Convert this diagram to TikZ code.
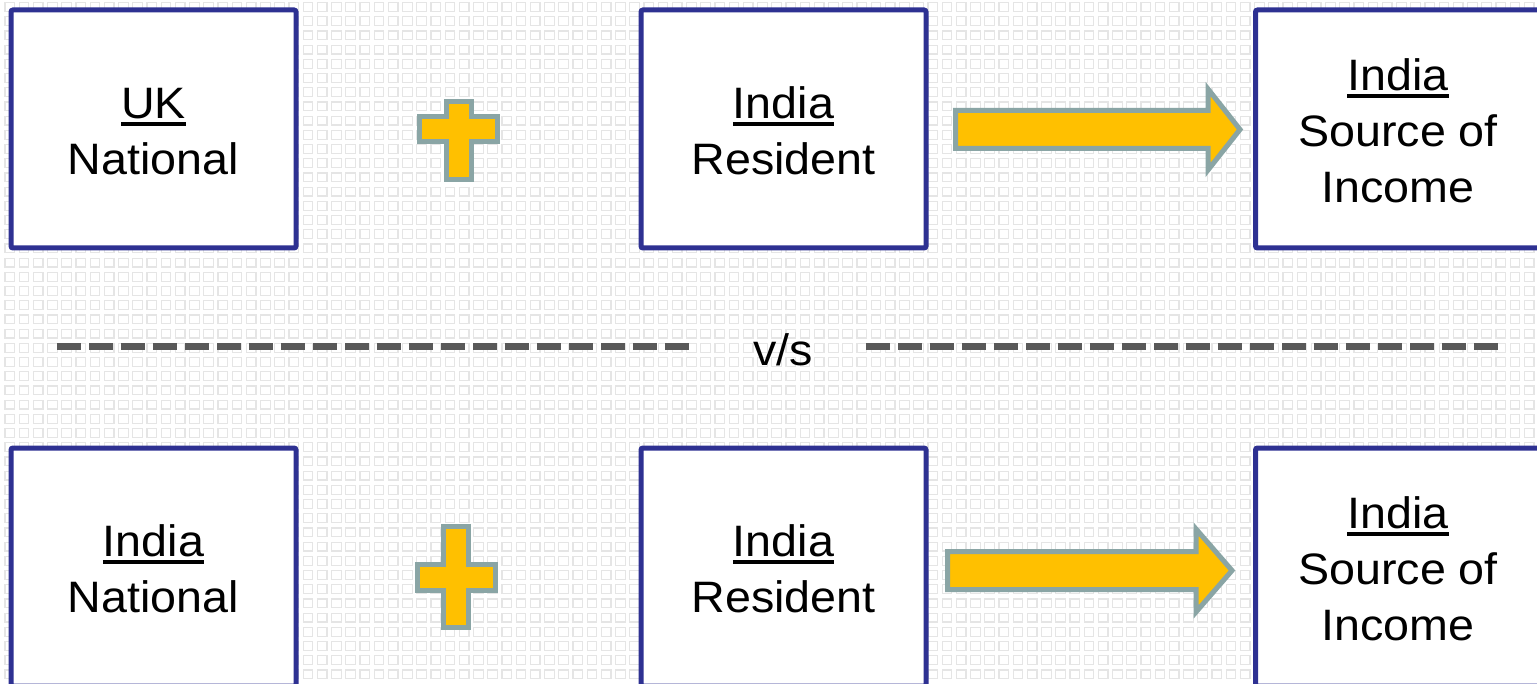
\documentclass[tikz,border=0pt]{standalone}
\usepackage{fontspec}
\setmainfont{Liberation Sans}[FakeStretch=1.06]
\definecolor{boxblue}{RGB}{46,49,146}
\definecolor{shapefill}{RGB}{255,192,0}
\definecolor{shapeedge}{RGB}{138,165,165}
\definecolor{dashgray}{RGB}{89,89,89}
\definecolor{bggray}{RGB}{229,229,229}
\newcommand\myul[1]{\setbox0\hbox{#1}\rule{0pt}{36pt}\rlap{\rule[-7pt]{\wd0}{3.5pt}}\box0}
\begin{document}
\begin{tikzpicture}[x=1pt,y=-1pt,
  txt/.style={font=\fontsize{44}{56}\selectfont, text=black},
  infobox/.style={txt, draw=boxblue, line width=5pt, fill=white, rounded corners=2pt,
    minimum width=285pt, minimum height=238pt, align=center, inner sep=0pt},
  blockshape/.style={fill=shapefill, draw=shapeedge, line width=5pt},
  sepline/.style={draw=dashgray, line width=7pt, dash pattern=on 24pt off 8pt},
  bgsq/.style={draw=bggray, line width=1.2pt},
]
\useasboundingbox (0,0) rectangle (1537,684);
\fill[white] (0,0) rectangle (1537,684);
% background pattern of small squares
\foreach \j in {0,...,48}{
  \draw[bgsq] \foreach \i in {0,...,108}{ ({5+14.2*\i},{2.6+14.2*\j}) rectangle ++(9.5,8.8) };
}
% top row
\node[infobox] (uk) at (153.5,129) {\myul{UK}\\National};
\node[infobox] (res1) at (783.5,129) {\myul{India}\\Resident};
\node[infobox] (src1) at (1398,129) {\myul{India}\\Source of\\Income};
% bottom row
\node[infobox] (in) at (153.5,567) {\myul{India}\\National};
\node[infobox] (res2) at (783.5,567) {\myul{India}\\Resident};
\node[infobox] (src2) at (1398,567) {\myul{India}\\Source of\\Income};
% plus signs
\draw[blockshape] (446,102) -- (471.5,102) -- (471.5,117) -- (497.5,117) -- (497.5,141.5)
  -- (471.5,141.5) -- (471.5,180) -- (446,180) -- (446,141.5) -- (419,141.5) -- (419,117)
  -- (446,117) -- cycle;
\draw[blockshape] (443.5,526.5) -- (468.5,526.5) -- (468.5,564) -- (495,564) -- (495,590)
  -- (468.5,590) -- (468.5,627.5) -- (443.5,627.5) -- (443.5,590) -- (417.5,590) -- (417.5,564)
  -- (443.5,564) -- cycle;
% block arrows
\draw[blockshape] (955.5,110.5) -- (1208,110.5) -- (1208,89) -- (1240,129.5) -- (1208,170)
  -- (1208,148.5) -- (955.5,148.5) -- cycle;
\draw[blockshape] (947.5,551.5) -- (1196,551.5) -- (1196,529) -- (1232,570.5) -- (1196,612)
  -- (1196,589.5) -- (947.5,589.5) -- cycle;
% separator
\node[txt, anchor=base, inner sep=0pt] (vs) at (783,366) {v/s};
\coordinate (l1) at (57,347);
\coordinate (l2) at (690,347);
\coordinate (r1) at (866,347);
\coordinate (r2) at (1499,347);
\draw[sepline] (l1) -- (l2);
\draw[sepline] (r1) -- (r2);
\end{tikzpicture}
\end{document}
